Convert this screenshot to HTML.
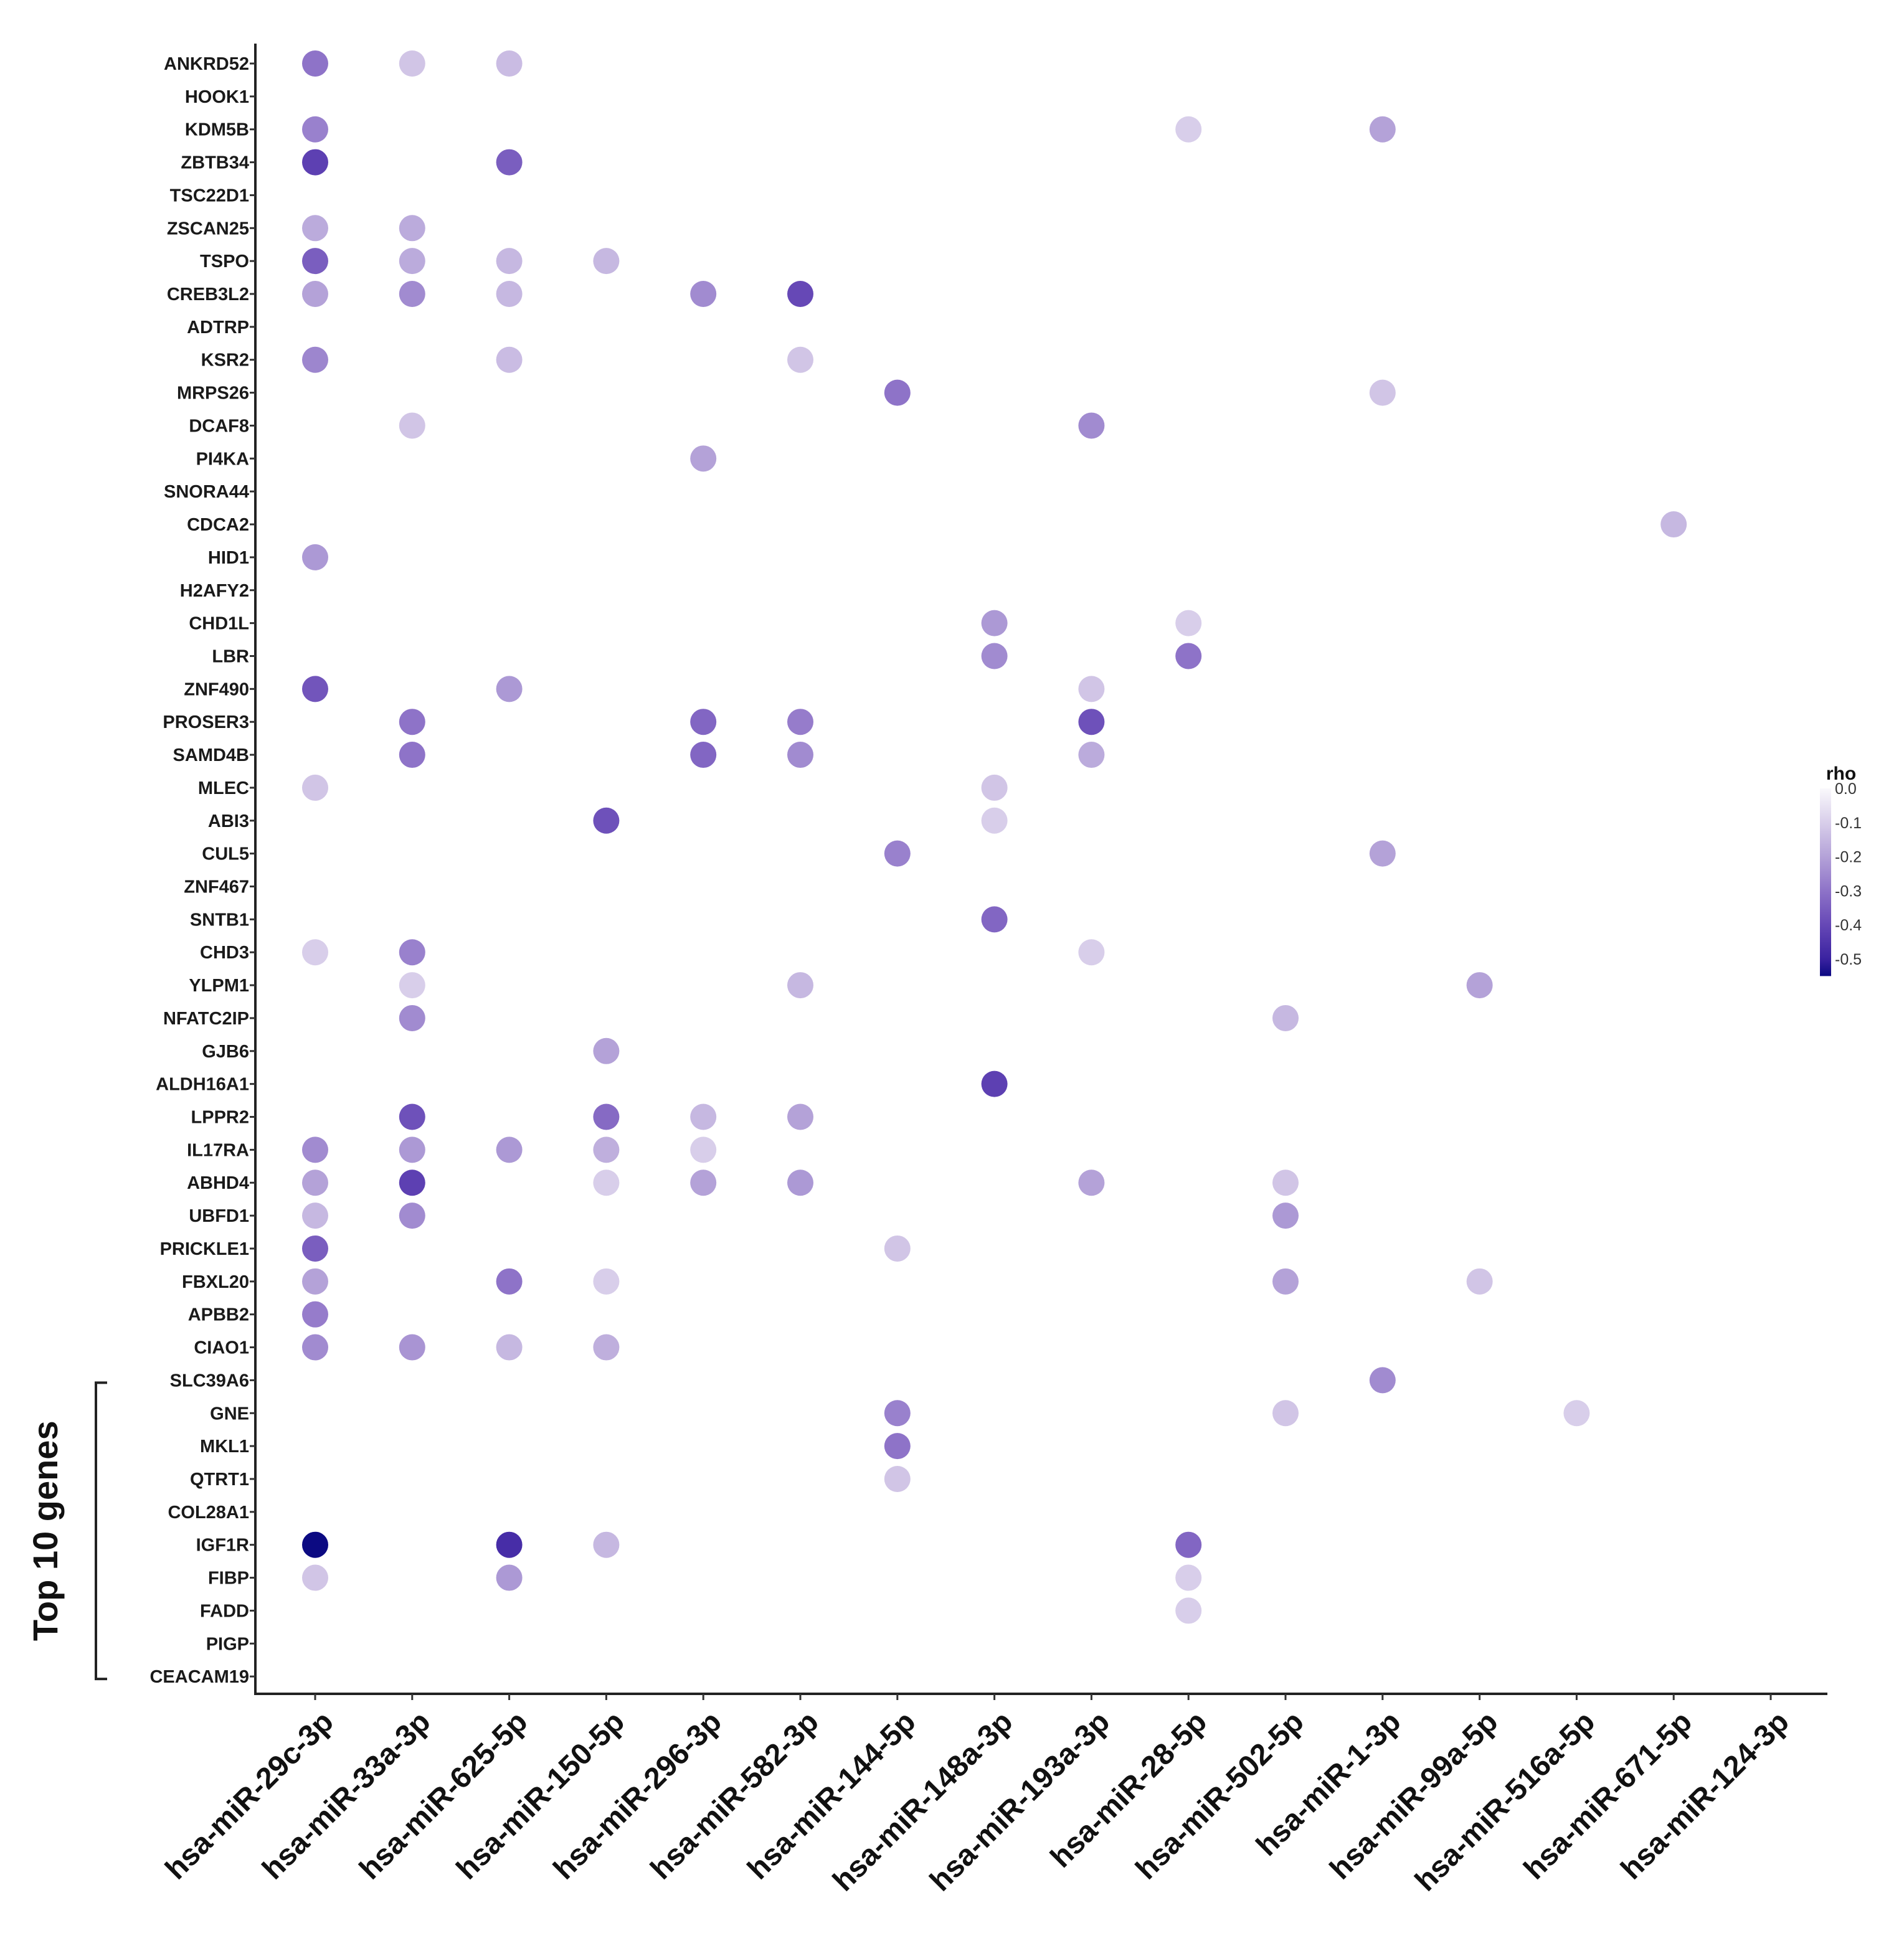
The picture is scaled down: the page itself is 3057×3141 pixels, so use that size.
<!DOCTYPE html>
<html><head><meta charset="utf-8">
<style>
html,body{margin:0;padding:0;background:#fff;}
svg text{font-family:"Liberation Sans",sans-serif;}
</style></head>
<body>
<svg id="chart" width="3057" height="3136" viewBox="0 0 3057 3136" xmlns="http://www.w3.org/2000/svg">
<rect width="3057" height="3136" fill="#fff"/>
<g id="plot"></g>
</svg>
<script>
const genes = ["ANKRD52","HOOK1","KDM5B","ZBTB34","TSC22D1","ZSCAN25","TSPO","CREB3L2","ADTRP","KSR2","MRPS26","DCAF8","PI4KA","SNORA44","CDCA2","HID1","H2AFY2","CHD1L","LBR","ZNF490","PROSER3","SAMD4B","MLEC","ABI3","CUL5","ZNF467","SNTB1","CHD3","YLPM1","NFATC2IP","GJB6","ALDH16A1","LPPR2","IL17RA","ABHD4","UBFD1","PRICKLE1","FBXL20","APBB2","CIAO1","SLC39A6","GNE","MKL1","QTRT1","COL28A1","IGF1R","FIBP","FADD","PIGP","CEACAM19"];
const mirnas = ["hsa-miR-29c-3p","hsa-miR-33a-3p","hsa-miR-625-5p","hsa-miR-150-5p","hsa-miR-296-3p","hsa-miR-582-3p","hsa-miR-144-5p","hsa-miR-148a-3p","hsa-miR-193a-3p","hsa-miR-28-5p","hsa-miR-502-5p","hsa-miR-1-3p","hsa-miR-99a-5p","hsa-miR-516a-5p","hsa-miR-671-5p","hsa-miR-124-3p"];
const pointGene = ["ANKRD52","ANKRD52","ANKRD52","KDM5B","KDM5B","KDM5B","ZBTB34","ZBTB34","ZSCAN25","ZSCAN25","TSPO","TSPO","TSPO","TSPO","CREB3L2","CREB3L2","CREB3L2","CREB3L2","CREB3L2","KSR2","KSR2","KSR2","MRPS26","MRPS26","DCAF8","DCAF8","PI4KA","CDCA2","HID1","CHD1L","CHD1L","LBR","LBR","ZNF490","ZNF490","ZNF490","PROSER3","PROSER3","PROSER3","PROSER3","SAMD4B","SAMD4B","SAMD4B","SAMD4B","MLEC","MLEC","ABI3","ABI3","CUL5","CUL5","SNTB1","CHD3","CHD3","CHD3","YLPM1","YLPM1","YLPM1","NFATC2IP","NFATC2IP","GJB6","ALDH16A1","LPPR2","LPPR2","LPPR2","LPPR2","IL17RA","IL17RA","IL17RA","IL17RA","IL17RA","ABHD4","ABHD4","ABHD4","ABHD4","ABHD4","ABHD4","ABHD4","UBFD1","UBFD1","UBFD1","PRICKLE1","PRICKLE1","FBXL20","FBXL20","FBXL20","FBXL20","FBXL20","APBB2","CIAO1","CIAO1","CIAO1","CIAO1","SLC39A6","GNE","GNE","GNE","MKL1","QTRT1","IGF1R","IGF1R","IGF1R","IGF1R","FIBP","FIBP","FIBP","FADD"];
const pointMir = ["hsa-miR-29c-3p","hsa-miR-33a-3p","hsa-miR-625-5p","hsa-miR-29c-3p","hsa-miR-28-5p","hsa-miR-1-3p","hsa-miR-29c-3p","hsa-miR-625-5p","hsa-miR-29c-3p","hsa-miR-33a-3p","hsa-miR-29c-3p","hsa-miR-33a-3p","hsa-miR-625-5p","hsa-miR-150-5p","hsa-miR-29c-3p","hsa-miR-33a-3p","hsa-miR-625-5p","hsa-miR-296-3p","hsa-miR-582-3p","hsa-miR-29c-3p","hsa-miR-625-5p","hsa-miR-582-3p","hsa-miR-144-5p","hsa-miR-1-3p","hsa-miR-33a-3p","hsa-miR-193a-3p","hsa-miR-296-3p","hsa-miR-671-5p","hsa-miR-29c-3p","hsa-miR-148a-3p","hsa-miR-28-5p","hsa-miR-148a-3p","hsa-miR-28-5p","hsa-miR-29c-3p","hsa-miR-625-5p","hsa-miR-193a-3p","hsa-miR-33a-3p","hsa-miR-296-3p","hsa-miR-582-3p","hsa-miR-193a-3p","hsa-miR-33a-3p","hsa-miR-296-3p","hsa-miR-582-3p","hsa-miR-193a-3p","hsa-miR-29c-3p","hsa-miR-148a-3p","hsa-miR-150-5p","hsa-miR-148a-3p","hsa-miR-144-5p","hsa-miR-1-3p","hsa-miR-148a-3p","hsa-miR-29c-3p","hsa-miR-33a-3p","hsa-miR-193a-3p","hsa-miR-33a-3p","hsa-miR-582-3p","hsa-miR-99a-5p","hsa-miR-33a-3p","hsa-miR-502-5p","hsa-miR-150-5p","hsa-miR-148a-3p","hsa-miR-33a-3p","hsa-miR-150-5p","hsa-miR-296-3p","hsa-miR-582-3p","hsa-miR-29c-3p","hsa-miR-33a-3p","hsa-miR-625-5p","hsa-miR-150-5p","hsa-miR-296-3p","hsa-miR-29c-3p","hsa-miR-33a-3p","hsa-miR-150-5p","hsa-miR-296-3p","hsa-miR-582-3p","hsa-miR-193a-3p","hsa-miR-502-5p","hsa-miR-29c-3p","hsa-miR-33a-3p","hsa-miR-502-5p","hsa-miR-29c-3p","hsa-miR-144-5p","hsa-miR-29c-3p","hsa-miR-625-5p","hsa-miR-150-5p","hsa-miR-502-5p","hsa-miR-99a-5p","hsa-miR-29c-3p","hsa-miR-29c-3p","hsa-miR-33a-3p","hsa-miR-625-5p","hsa-miR-150-5p","hsa-miR-1-3p","hsa-miR-144-5p","hsa-miR-502-5p","hsa-miR-516a-5p","hsa-miR-144-5p","hsa-miR-144-5p","hsa-miR-29c-3p","hsa-miR-625-5p","hsa-miR-150-5p","hsa-miR-28-5p","hsa-miR-29c-3p","hsa-miR-625-5p","hsa-miR-28-5p","hsa-miR-28-5p"];
const pointRho = [-0.30,-0.12,-0.14,-0.27,-0.10,-0.20,-0.42,-0.35,-0.18,-0.18,-0.35,-0.18,-0.15,-0.15,-0.20,-0.25,-0.15,-0.25,-0.40,-0.26,-0.14,-0.12,-0.30,-0.12,-0.12,-0.25,-0.20,-0.15,-0.22,-0.22,-0.10,-0.25,-0.30,-0.37,-0.22,-0.12,-0.30,-0.33,-0.28,-0.38,-0.30,-0.33,-0.25,-0.18,-0.12,-0.12,-0.38,-0.10,-0.27,-0.20,-0.33,-0.10,-0.27,-0.10,-0.10,-0.15,-0.20,-0.25,-0.15,-0.20,-0.42,-0.38,-0.32,-0.15,-0.20,-0.25,-0.22,-0.22,-0.17,-0.10,-0.20,-0.42,-0.10,-0.20,-0.22,-0.20,-0.12,-0.15,-0.25,-0.22,-0.35,-0.12,-0.20,-0.30,-0.10,-0.20,-0.12,-0.28,-0.25,-0.23,-0.15,-0.17,-0.25,-0.27,-0.12,-0.10,-0.30,-0.12,-0.55,-0.47,-0.15,-0.33,-0.12,-0.22,-0.10,-0.10];
const legendTicks = [0.0,-0.1,-0.2,-0.3,-0.4,-0.5];
const legendLabels = ["0.0","-0.1","-0.2","-0.3","-0.4","-0.5"];

const NS = "http://www.w3.org/2000/svg";
const g = document.getElementById('plot');
function mk(tag, attrs, parent){const e=document.createElementNS(NS,tag);for(const k in attrs)e.setAttribute(k,attrs[k]);(parent||g).appendChild(e);return e;}
const X0=506, DX=155.8, Y0=102, DY=52.86;
function xScale(m){return X0+mirnas.indexOf(m)*DX;}
function yScale(gn){return Y0+genes.indexOf(gn)*DY;}
const stops=[[0,[250,249,252]],[-0.1,[216,206,234]],[-0.2,[180,162,216]],[-0.3,[142,115,200]],[-0.4,[102,72,182]],[-0.5,[58,34,160]],[-0.55,[12,10,130]]];
function color(v){
  for(let i=0;i<stops.length-1;i++){const a=stops[i],b=stops[i+1];
    if(v<=a[0]&&v>=b[0]){const t=(a[0]-v)/(a[0]-b[0]);const c=a[1].map((x,k)=>Math.round(x+(b[1][k]-x)*t));return `rgb(${c})`;}}
  return v>0?'rgb(250,249,252)':'rgb(12,10,130)';
}
const axX=410, axTop=70, axBot=2720, axRight=2934;
let e=mk('line',{x1:axX,y1:axTop,x2:axX,y2:axBot+2,stroke:'#222','stroke-width':4});


e=mk('line',{x1:axX-2,y1:axBot,x2:axRight,y2:axBot,stroke:'#222','stroke-width':4});


genes.forEach(gn=>{
  const y=yScale(gn);
  const t=mk('line',{x1:axX-9,y1:y,x2:axX,y2:y,stroke:'#333','stroke-width':3});
  
  
  const l=mk('text',{x:axX-10,y:y+10,'text-anchor':'end','font-size':29,'font-weight':'bold',fill:'#1a1a1a'});
  l.textContent=gn;
  
  
});
mirnas.forEach(m=>{
  const x=xScale(m);
  const t=mk('line',{x1:x,y1:axBot,x2:x,y2:axBot+10,stroke:'#333','stroke-width':3});
  
  
  const l=mk('text',{x:x+32,y:axBot+48,'text-anchor':'end','font-size':48,'font-weight':'bold',fill:'#111',transform:`rotate(-45 ${x+32} ${axBot+48})`});
  l.textContent=m;
  
  
});
for(let i=0;i<pointRho.length;i++){
  const c=mk('circle',{cx:xScale(pointMir[i]),cy:yScale(pointGene[i]),r:21,fill:color(pointRho[i])});
  
  
}
const by1=yScale('SLC39A6')+4, by2=yScale('CEACAM19')+4;
e=mk('path',{d:`M172 ${by1} H154 V${by2} H172`,fill:'none',stroke:'#222','stroke-width':4});


e=mk('text',{x:92,y:(by1+by2)/2,'text-anchor':'middle','font-size':56,'font-weight':'bold',fill:'#111',transform:`rotate(-90 92 ${(by1+by2)/2})`});
e.textContent='Top 10 genes';


const LX=2922, LW=18, L0=1266, LPER=548;
function ly(v){return L0-v*LPER;}
const defs=mk('defs',{});
const grad=mk('linearGradient',{id:'lg',x1:0,y1:0,x2:0,y2:1},defs);
const lTop=ly(0), lBot=ly(-0.55);
stops.forEach(s=>{mk('stop',{offset:((ly(s[0])-lTop)/(lBot-lTop)).toFixed(3),'stop-color':`rgb(${s[1]})`},grad);});
e=mk('rect',{x:LX,y:lTop,width:LW,height:lBot-lTop,fill:'url(#lg)'});


e=mk('text',{x:2956,y:1252,'text-anchor':'middle','font-size':30,'font-weight':'bold',fill:'#111'});
e.textContent='rho';


legendTicks.forEach((v,i)=>{
  const y=ly(v);
  const t=mk('text',{x:LX+LW+6,y:y+9,'font-size':25,fill:'#333'});
  t.textContent=legendLabels[i];
  
  
});
</script>
</body></html>
